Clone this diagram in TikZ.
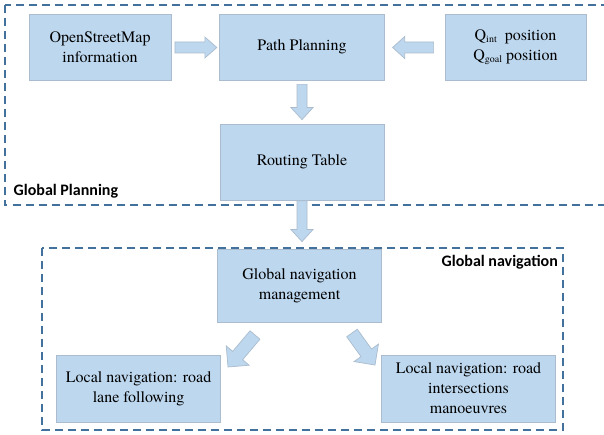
\documentclass[tikz,border=0pt]{standalone}
\usepackage{fontspec}
\newfontfamily\boxfont{texgyretermes-regular.otf}
\newfontfamily\lblfont{Carlito}
\usetikzlibrary{calc}
\definecolor{boxfill}{RGB}{189,215,238}
\definecolor{boxline}{RGB}{170,188,206}
\definecolor{dashblue}{RGB}{65,113,156}
\tikzset{
  box/.style={draw=boxline, fill=boxfill, line width=0.8pt, align=center,
    font=\boxfont\fontsize{16}{20}\selectfont, inner sep=0pt},
  region/.style={draw=dashblue, line width=2pt, dash pattern=on 8pt off 5pt},
  barrow/.style={draw=boxline, fill=boxfill, line width=0.7pt, line join=miter},
  lbl/.style={font=\lblfont\bfseries\fontsize{16}{19}\selectfont, inner sep=0pt},
}
\newcommand\blockarrow[5]{%
  \coordinate (bac) at ($(#2)!#5!(#1)$);
  \filldraw[barrow] ($(#1)!#3!90:(#2)$) -- ($(bac)!#3!90:(#2)$) -- ($(bac)!#4!90:(#2)$)
    -- (#2) -- ($(bac)!#4!-90:(#2)$) -- ($(bac)!#3!-90:(#2)$) -- ($(#1)!#3!-90:(#2)$) -- cycle;
}
\newcommand\smallsub[1]{\raisebox{-1.5pt}{\fontsize{10}{10}\selectfont #1}}
\begin{document}
\begin{tikzpicture}[x=1pt,y=-1pt]
\useasboundingbox (0,0) rectangle (604,435);
\clip (0,0) rectangle (604,435);
\fill[white] (0,0) rectangle (604,435);
% regions
\draw[region] (5,5) rectangle (620,205.5);
\draw[region] (41.6,248) rectangle (563,430);
% boxes
\node[box, minimum width=142pt, minimum height=66pt] (osm) at (100,47) {OpenStreetMap\\information};
\node[box, minimum width=164.5pt, minimum height=66pt] (pp) at (302,47) {Path Planning};
\node[box, minimum width=141pt, minimum height=66pt] (q) at (515.5,47)
  {Q\smallsub{int}\ \ position\\Q\smallsub{goal} position};
\node[box, minimum width=164pt, minimum height=76pt] (rt) at (302,162) {Routing Table};
\node[box, minimum width=163.5pt, minimum height=73pt] (gnm) at (299.5,285.5) {Global navigation\\management};
\node[box, minimum width=164pt, minimum height=67pt] (ll) at (138.6,388.5) {Local navigation: road\\lane following};
\node[box, minimum width=174pt, minimum height=67pt] (rl) at (468.5,388.5) {Local navigation: road\\intersections\\manoeuvres};
% labels
\node[lbl, anchor=west] (gpl) at (13.5,191.5) {Global Planning};
\node[lbl, anchor=east] (gnl) at (558,262) {Global navigation};
% arrow end points
\coordinate (a1s) at ($(osm.east)+(3.5,0.5)$);
\coordinate (a1e) at ($(pp.west)+(-2.5,0.5)$);
\coordinate (a2s) at ($(q.west)+(-11,0.5)$);
\coordinate (a2e) at ($(pp.east)+(8,0.5)$);
\coordinate (a3s) at ($(pp.south)+(0,4)$);
\coordinate (a3e) at ($(rt.north)+(0,-4)$);
\coordinate (a4s) at ($(rt.south)+(0,0.5)$);
\coordinate (a4e) at ($(gnm.north)+(2.5,-7)$);
\coordinate (a5s) at (255,335);
\coordinate (a5e) at (228,367);
\coordinate (a6s) at (352,333);
\coordinate (a6e) at (375,365);
% arrows
\blockarrow{a1s}{a1e}{5.5pt}{10.5pt}{12pt}
\blockarrow{a2s}{a2e}{5.5pt}{11pt}{12pt}
\blockarrow{a3s}{a3e}{5pt}{11pt}{12pt}
\blockarrow{a4s}{a4e}{5pt}{11pt}{12pt}
\blockarrow{a5s}{a5e}{6.5pt}{15pt}{15pt}
\blockarrow{a6s}{a6e}{6.5pt}{15pt}{15pt}
\end{tikzpicture}
\end{document}
